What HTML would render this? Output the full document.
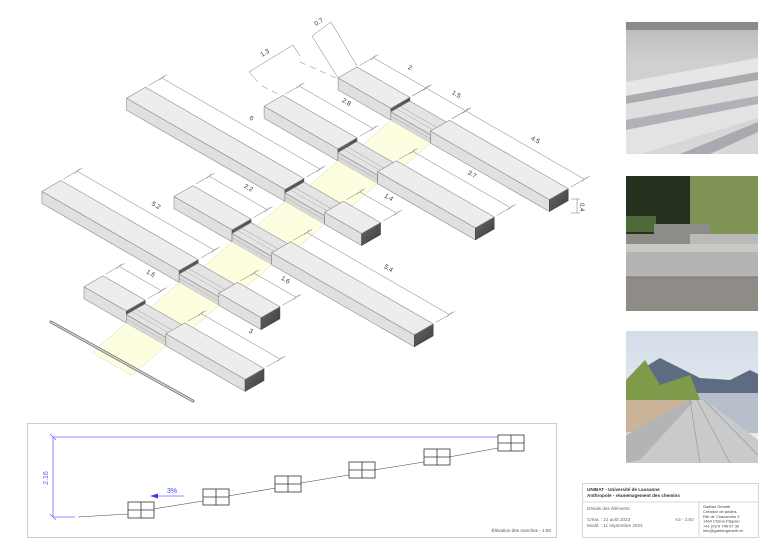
<!DOCTYPE html>
<html><head><meta charset="utf-8"><style>
html,body{margin:0;padding:0;background:#fff;}
svg{display:block;font-family:"Liberation Sans",sans-serif;}
</style></head><body>
<svg id="s" width="780" height="552" viewBox="0 0 780 552" xmlns="http://www.w3.org/2000/svg">
<rect width="780" height="552" fill="#fff"/>
<defs>
<linearGradient id="endg" x1="0" y1="0" x2="1" y2="1"><stop offset="0" stop-color="#6a6a6a"/><stop offset="1" stop-color="#3a3a3a"/></linearGradient>
<linearGradient id="p1" x1="0" y1="0" x2="0" y2="1"><stop offset="0" stop-color="#b9b9b9"/><stop offset="0.3" stop-color="#cfcfcf"/><stop offset="1" stop-color="#d8d8d8"/></linearGradient>
<linearGradient id="p3sky" x1="0" y1="0" x2="0" y2="1"><stop offset="0" stop-color="#d3dde8"/><stop offset="1" stop-color="#eef0f2"/></linearGradient>
</defs>
<g id="iso"></g>
<g id="dims" stroke="#777" stroke-width="0.5" fill="none"></g>
<g id="labels" font-size="6.5" fill="#333" text-anchor="middle">
<text id="l0L">2</text><text id="l0S">1.5</text><text id="l0R">4.5</text>
<text id="l1L">2.8</text><text id="l1R">3.7</text>
<text id="l2L">6</text><text id="l2R">1.4</text>
<text id="l3L">2.2</text><text id="l3R">5.4</text>
<text id="l4L">5.2</text><text id="l4R">1.6</text>
<text id="l5L">1.6</text><text id="l5R">3</text>
</g>
<g stroke="#777" stroke-width="0.5" fill="none">
<line x1="312" y1="36" x2="331" y2="22"/><line x1="312" y1="36" x2="338" y2="78"/><line x1="331" y1="22" x2="357" y2="66"/>
<line x1="249" y1="72" x2="293" y2="45"/><line x1="249" y1="72" x2="258" y2="82"/><line x1="293" y1="45" x2="300" y2="56"/>
<line x1="300" y1="62" x2="336" y2="78" stroke-dasharray="6,5"/>
<line x1="262" y1="86" x2="282" y2="96" stroke-dasharray="6,5"/>
<line x1="571" y1="199" x2="580" y2="199"/><line x1="571" y1="213" x2="580" y2="213"/><line x1="577" y1="199" x2="577" y2="213"/>
</g>
<text x="316" y="26" font-size="6.5" fill="#333" transform="rotate(-32 316 26)">0.7</text>
<text x="262" y="57" font-size="6.5" fill="#333" transform="rotate(-32 262 57)">1.3</text>
<text x="580" y="203" font-size="6" fill="#333" transform="rotate(90 580 203)">0.4</text>
<line x1="51" y1="322" x2="193" y2="401" stroke="#777" stroke-width="3" stroke-linecap="round"/>
<line x1="51" y1="322" x2="193" y2="401" stroke="#ddd" stroke-width="1.2" stroke-linecap="round"/>

<rect x="27.5" y="423.5" width="529" height="114" fill="none" stroke="#ccc" stroke-width="1"/>
<g stroke="#6b6bff" stroke-width="0.8">
<line x1="53" y1="437" x2="524" y2="437"/><line x1="53" y1="437" x2="53" y2="517"/><line x1="53" y1="517" x2="75" y2="517"/>
<line x1="50" y1="434" x2="56" y2="440"/><line x1="50" y1="514" x2="56" y2="520"/>
<line x1="155" y1="496" x2="184" y2="496"/>
</g>
<polygon points="150,496 158,493.5 158,498.5" fill="#3b3bff"/>
<text x="172" y="493" font-size="7" fill="#3b3bff" text-anchor="middle">3%</text>
<text x="48" y="478" font-size="7" fill="#5b5bff" text-anchor="middle" transform="rotate(-90 48 478)">2.16</text>
<polyline points="78,517 128,514 153,509 203,501 228,496 276,488 301,483 349,475 374,470 424,462 449,457 498,448" fill="none" stroke="#444" stroke-width="0.6"/>
<g fill="#fff" stroke="#333" stroke-width="0.8">
<rect x="128" y="502" width="26" height="16"/><line x1="128" y1="510" x2="154" y2="510"/><line x1="141" y1="502" x2="141" y2="518"/>
<rect x="203" y="489" width="26" height="16"/><line x1="203" y1="497" x2="229" y2="497"/><line x1="216" y1="489" x2="216" y2="505"/>
<rect x="275" y="476" width="26" height="16"/><line x1="275" y1="484" x2="301" y2="484"/><line x1="288" y1="476" x2="288" y2="492"/>
<rect x="349" y="462" width="26" height="16"/><line x1="349" y1="470" x2="375" y2="470"/><line x1="362" y1="462" x2="362" y2="478"/>
<rect x="424" y="449" width="26" height="16"/><line x1="424" y1="457" x2="450" y2="457"/><line x1="437" y1="449" x2="437" y2="465"/>
<rect x="498" y="435" width="26" height="16"/><line x1="498" y1="443" x2="524" y2="443"/><line x1="511" y1="435" x2="511" y2="451"/>
</g>
<text x="551" y="532" font-size="4.6" fill="#555" text-anchor="end">Élévation des marches - 1:50</text>

<rect x="582.5" y="483.5" width="176" height="54" fill="#fff" stroke="#ccc" stroke-width="0.8"/>
<line x1="582" y1="502" x2="759" y2="502" stroke="#ccc" stroke-width="0.8"/>
<line x1="699" y1="502" x2="699" y2="537" stroke="#ccc" stroke-width="0.8"/>
<g font-size="4.6" fill="#333">
<text x="587" y="491" font-weight="bold">UNIBAT - Université de Lausanne</text>
<text x="587" y="497" font-weight="bold">Anthropole - réaménagement des chemins</text>
<text x="587" y="510" fill="#666">Détails des éléments</text>
<text x="587" y="521" fill="#666">Créat. :     21 août 2023</text>
<text x="587" y="527" fill="#666">Modif. :     11 septembre 2023</text>
<text x="675" y="521" fill="#666">A3 - 1:50</text>
</g>
<g font-size="4" fill="#444">
<text x="703" y="508">Gaëtan Genetti</text>
<text x="703" y="513">Création de jardins</text>
<text x="703" y="518">Rte de Chavannes 3</text>
<text x="703" y="522.5">1464 Chêne-Pâquier</text>
<text x="703" y="527.5">+41 (0)79 746 67 30</text>
<text x="703" y="532">info@gaetangenetti.ch</text>
</g>

<g>
<rect x="626" y="22" width="132" height="132" fill="url(#p1)"/>
<rect x="626" y="22" width="132" height="8" fill="#8a8a88"/>
<polygon points="626,82 758,58 758,72 626,96" fill="#e6e6e6"/>
<polygon points="626,96 758,72 758,80 626,104" fill="#a9abb0"/>
<polygon points="626,104 758,80 758,96 626,120" fill="#dedede"/>
<polygon points="626,120 758,96 758,104 626,130" fill="#b0b2b8"/>
<polygon points="626,130 758,104 758,118 640,154 626,154" fill="#e3e3e3"/>
<polygon points="680,154 758,122 758,132 710,154" fill="#a8aab0"/>
</g>
<g>
<rect x="626" y="176" width="132" height="135" fill="#8f8c88"/>
<rect x="626" y="176" width="132" height="58" fill="#26301f"/>
<rect x="690" y="176" width="68" height="62" fill="#7f9455"/>
<rect x="626" y="216" width="30" height="16" fill="#4f6a38"/>
<rect x="654" y="224" width="56" height="20" fill="#8c8c88"/>
<rect x="690" y="234" width="68" height="12" fill="#b9b9b5"/>
<rect x="626" y="244" width="132" height="8" fill="#c9c9c6"/>
<rect x="626" y="252" width="132" height="25" fill="#b4b4b2"/>
<line x1="626" y1="277" x2="758" y2="277" stroke="#777" stroke-width="1"/>
</g>
<g>
<rect x="626" y="331" width="132" height="132" fill="url(#p3sky)"/>
<polygon points="640,370 660,358 700,378 730,380 750,370 758,374 758,395 626,395" fill="#5d6c82"/>
<rect x="680" y="393" width="78" height="40" fill="#b7c0ca"/>
<polygon points="626,380 645,360 660,385 690,375 700,400 626,405" fill="#7f9a4a"/>
<polygon points="626,400 690,400 640,430 626,433" fill="#c9b49a"/>
<polygon points="626,435 690,400 705,400 758,440 758,463 626,463" fill="#c9cacb"/>
<polygon points="626,435 690,400 693,402 640,460 626,463" fill="#b3b4b6"/>
<line x1="690" y1="400" x2="700" y2="463" stroke="#999" stroke-width="0.7"/>
<line x1="697" y1="400" x2="730" y2="463" stroke="#999" stroke-width="0.7"/>
<line x1="704" y1="400" x2="758" y2="455" stroke="#999" stroke-width="0.7"/>
</g>
</svg>
<script>
(function(){
var NS="http://www.w3.org/2000/svg";
var iso=document.getElementById("iso"), dims=document.getElementById("dims");
function P(u,v,h){return [357+26.4*u+27*v, 79+15.2*u-15.6*v-30*h];}
function poly(g,pts,fill,stroke,sw){var e=document.createElementNS(NS,"polygon");e.setAttribute("points",pts.map(function(p){return p[0].toFixed(1)+","+p[1].toFixed(1)}).join(" "));e.setAttribute("fill",fill);e.setAttribute("stroke",stroke||"#8a8a8a");e.setAttribute("stroke-width",sw||0.6);e.setAttribute("stroke-linejoin","round");g.appendChild(e);}
function line(g,a,b,col,w){var e=document.createElementNS(NS,"line");e.setAttribute("x1",a[0]);e.setAttribute("y1",a[1]);e.setAttribute("x2",b[0]);e.setAttribute("y2",b[1]);if(col)e.setAttribute("stroke",col);if(w)e.setAttribute("stroke-width",w);g.appendChild(e);}
function box(u0,u1,vb,w,h,top,front,end){var vf=vb-w;
 poly(iso,[P(u0,vf,h),P(u1,vf,h),P(u1,vf,0),P(u0,vf,0)],front);
 poly(iso,[P(u1,vb,h),P(u1,vf,h),P(u1,vf,0),P(u1,vb,0)],end,"#444");
 poly(iso,[P(u0,vb,h),P(u1,vb,h),P(u1,vf,h),P(u0,vf,h)],top);}
var rows=[[2,4.5],[2.8,3.7],[6,1.4],[2.2,5.4],[5.2,1.6],[1.6,3]];
var W=0.7,H=0.4;
function us(k){return 2+0.327*k;} function vb(k){return -2.28*k;}
for(var k=0;k<6;k++){
 var s=us(k),v=vb(k),L=rows[k][0],R=rows[k][1];
 box(s-L,s,v,W,H,"#ededed","#e0e0e0","url(#endg)");
 box(s,s+1.5,v,W,0.28,"#e4e4e4","#dadada","#bbb");
 line(iso,P(s,v-0.35,0.28),P(s+1.5,v-0.35,0.28),"#999",0.5);
 line(iso,P(s,v-0.5,0.28),P(s+1.5,v-0.5,0.28),"#aaa",0.5);
 line(iso,P(s,v-W,0.14),P(s+1.5,v-W,0.14),"#aaa",0.5);
 box(s+1.5,s+1.5+R,v,W,H,"#ededed","#e0e0e0","url(#endg)");
 var vf=v-W, s2=us(k+1), v2=(k<5?vb(k+1):vf-1.58);
 poly(iso,[P(s,vf,0),P(s+1.5,vf,0),P(s2+1.5,v2,0),P(s2,v2,0)],"#fdfde0","#d8d8c0",0.5);
}
function dim(u0,u1,v,id){
 var dv=v+0.6, a=P(u0,dv,H), b=P(u1,dv,H);
 line(dims,a,b);
 line(dims,P(u0,v+0.1,H),P(u0,v+0.8,H)); line(dims,P(u1,v+0.1,H),P(u1,v+0.8,H));
 [a,b].forEach(function(p){line(dims,[p[0]-2.5,p[1]+2.5],[p[0]+2.5,p[1]-2.5]);});
 var m=P((u0+u1)/2,v+0.95,H), t=document.getElementById(id);
 t.setAttribute("x",m[0].toFixed(1));t.setAttribute("y",(m[1]+2).toFixed(1));
 t.setAttribute("transform","rotate(30 "+m[0].toFixed(1)+" "+(m[1]+2).toFixed(1)+")");
}
for(var k=0;k<6;k++){
 var s=us(k),v=vb(k),L=rows[k][0],R=rows[k][1];
 dim(s-L,s,v,"l"+k+"L");
 if(k==0){dim(s,s+1.5,v,"l0S");}
 dim(s+1.5,s+1.5+R,v,"l"+k+"R");
}
})();
</script>
</body></html>
